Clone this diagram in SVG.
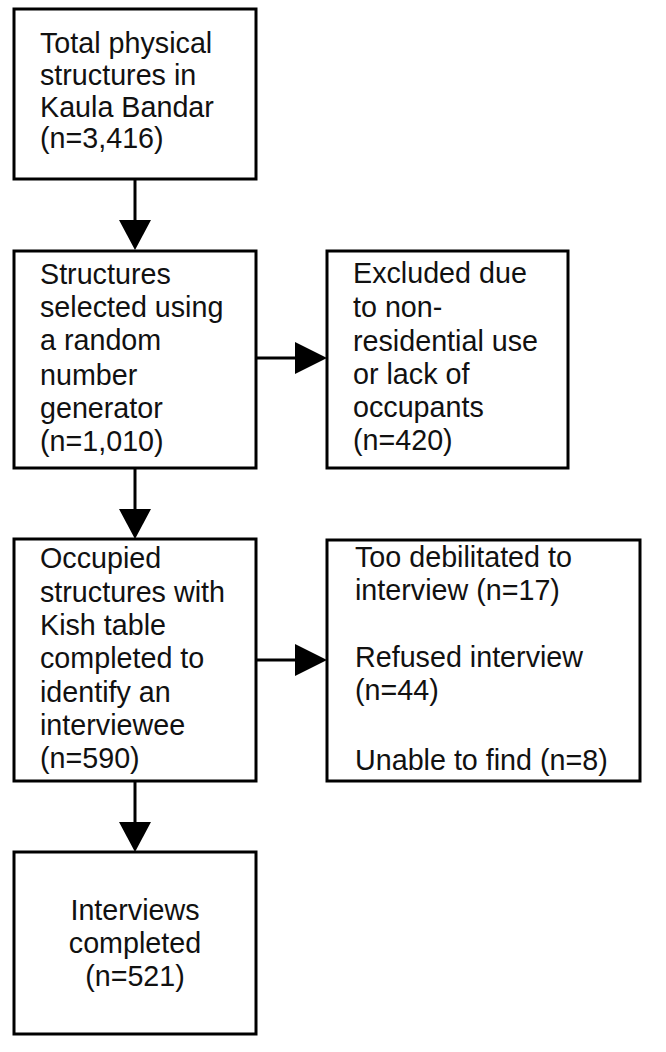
<svg xmlns="http://www.w3.org/2000/svg" width="666" height="1052" viewBox="0 0 666 1052">
<style>
.box{fill:#fff;stroke:#000;stroke-width:3}
.t{font-family:"Liberation Sans",Arial,sans-serif;font-size:28.7px;fill:#111}
.c{text-anchor:middle}
.ln{stroke:#000;stroke-width:3;fill:none}
.ah{fill:#000}
</style>
<rect width="666" height="1052" fill="#fff"/>
<g id="connectors">
<line class="ln" x1="135" y1="179" x2="135" y2="222"/>
<polygon class="ah" points="119,220 151,220 135,250"/>
<line class="ln" x1="135" y1="468" x2="135" y2="511"/>
<polygon class="ah" points="119,509 151,509 135,539"/>
<line class="ln" x1="135" y1="781" x2="135" y2="824"/>
<polygon class="ah" points="119,822 151,822 135,852"/>
<line class="ln" x1="256" y1="358" x2="298" y2="358"/>
<polygon class="ah" points="295,342 295,374 327,358"/>
<line class="ln" x1="256" y1="660" x2="298" y2="660"/>
<polygon class="ah" points="295,644 295,676 327,660"/>
</g>
<g id="n1">
<rect class="box" x="14" y="9" width="242" height="170"/>
<text class="t" x="40" y="53">Total physical</text>
<text class="t" x="40" y="85">structures in</text>
<text class="t" x="40" y="117">Kaula Bandar</text>
<text class="t" x="40" y="148">(n=3,416)</text>
</g>
<g id="n2">
<rect class="box" x="14" y="251" width="242" height="217"/>
<text class="t" x="40" y="284">Structures</text>
<text class="t" x="40" y="317">selected using</text>
<text class="t" x="40" y="350">a random</text>
<text class="t" x="40" y="385">number</text>
<text class="t" x="40" y="418">generator</text>
<text class="t" x="40" y="451">(n=1,010)</text>
</g>
<g id="n3">
<rect class="box" x="327" y="251" width="241" height="217"/>
<text class="t" x="353" y="283">Excluded due</text>
<text class="t" x="353" y="317">to non-</text>
<text class="t" x="353" y="351">residential use</text>
<text class="t" x="353" y="384">or lack of</text>
<text class="t" x="353" y="417">occupants</text>
<text class="t" x="353" y="450">(n=420)</text>
</g>
<g id="n4">
<rect class="box" x="14" y="539" width="242" height="242"/>
<text class="t" x="40" y="568">Occupied</text>
<text class="t" x="40" y="602">structures with</text>
<text class="t" x="40" y="635">Kish table</text>
<text class="t" x="40" y="668">completed to</text>
<text class="t" x="40" y="702">identify an</text>
<text class="t" x="40" y="735">interviewee</text>
<text class="t" x="40" y="768">(n=590)</text>
</g>
<g id="n5">
<rect class="box" x="327" y="540" width="313" height="241"/>
<text class="t" x="355" y="567">Too debilitated to</text>
<text class="t" x="355" y="600">interview (n=17)</text>
<text class="t" x="355" y="667">Refused interview</text>
<text class="t" x="355" y="700">(n=44)</text>
<text class="t" x="355" y="770">Unable to find (n=8)</text>
</g>
<g id="n6">
<rect class="box" x="14" y="852" width="242" height="182"/>
<text class="t c" x="135" y="920">Interviews</text>
<text class="t c" x="135" y="953">completed</text>
<text class="t c" x="135" y="986">(n=521)</text>
</g>
</svg>
